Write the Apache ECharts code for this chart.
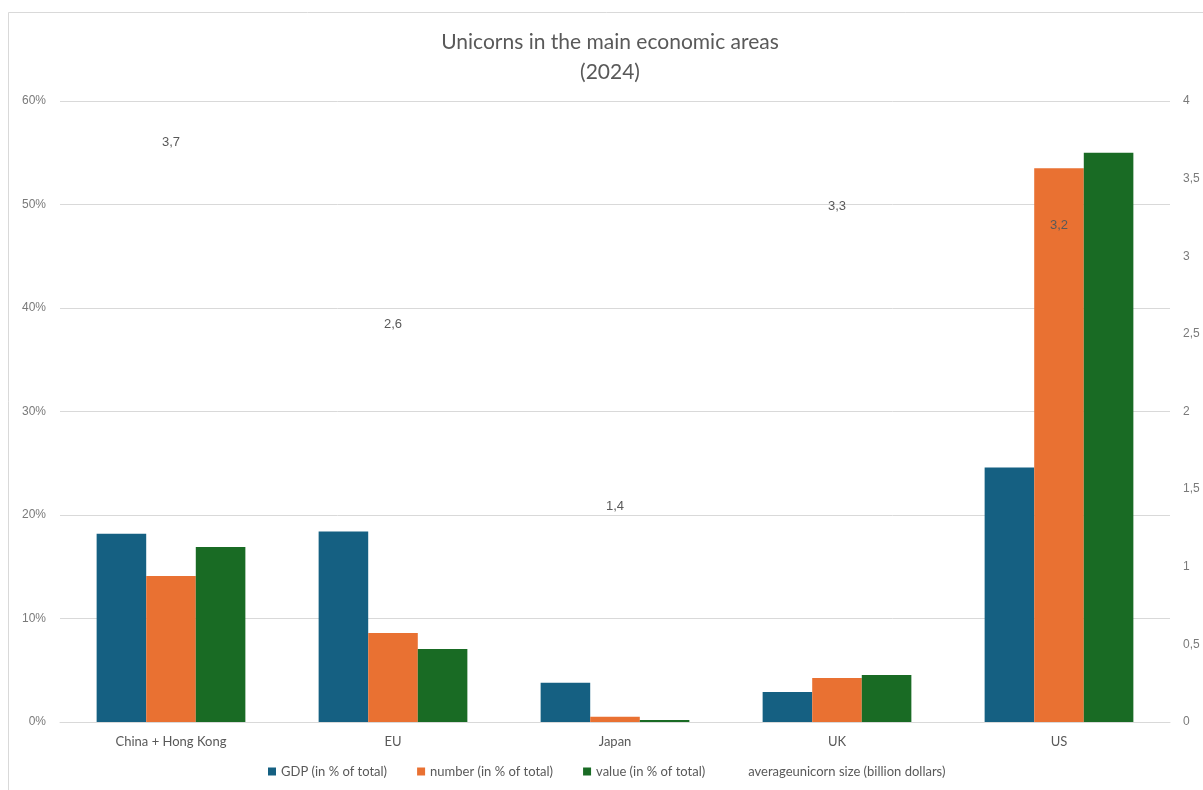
<!DOCTYPE html>
<html>
<head>
<meta charset="utf-8">
<script src="https://cdn.jsdelivr.net/npm/echarts@6/dist/echarts.min.js"></script>
<style>
html,body{margin:0;padding:0;background:#fff;}
#c{width:1203px;height:790px;}
</style>
</head>
<body>
<div id="c"></div>
<script>
const categories = ['China + Hong Kong', 'EU', 'Japan', 'UK', 'US'];
const gdpShare = [18.2, 18.4, 3.8, 2.9, 24.6];
const numberShare = [14.1, 8.6, 0.5, 4.25, 53.5];
const valueShare = [16.9, 7.05, 0.2, 4.55, 55.0];
const avgSize = [3.73, 2.56, 1.39, 3.32, 3.2];
const seriesNames = ['GDP (in % of total)', 'number (in % of total)', 'value (in % of total)', 'averageunicorn size (billion dollars)'];

const txt = '#595959';
const tick = '#7a7a7a';
const font = 'Liberation Sans';
const chart = echarts.init(document.getElementById('c'));
chart.setOption({
  backgroundColor: '#fff',
  animation: false,
  graphic: [{
    type: 'rect', shape: {x: 8.5, y: 12.5, width: 1200, height: 780},
    style: {fill: 'none', stroke: '#d9d9d9', lineWidth: 1}, silent: true, z: -1
  }],
  title: {
    text: 'Unicorns in the main economic areas\n(2024)',
    left: 605, top: 22, textAlign: 'center',
    textStyle: {color: txt, fontSize: 21, fontWeight: 'normal', fontFamily: 'Lato', lineHeight: 30}
  },
  legend: {
    bottom: 7, left: 263,
    itemWidth: 8, itemHeight: 8, itemGap: 30,
    textStyle: {color: txt, fontSize: 13, fontFamily: 'Lato'},
    data: [
      {name: seriesNames[0], icon: 'rect'},
      {name: seriesNames[1], icon: 'rect'},
      {name: seriesNames[2], icon: 'rect'},
      {name: seriesNames[3], icon: 'rect', itemStyle: {color: 'rgba(0,0,0,0)', opacity: 0}}
    ]
  },
  grid: {left: 60, right: 33, top: 101, bottom: 68},
  xAxis: {
    type: 'category', data: categories,
    axisLine: {lineStyle: {color: '#d9d9d9'}},
    axisTick: {show: false},
    axisLabel: {color: txt, fontSize: 13, fontFamily: 'Lato', margin: 13}
  },
  yAxis: [{
    type: 'value', min: 0, max: 60, interval: 10,
    axisLabel: {color: tick, fontSize: 12, fontFamily: font, margin: 14, formatter: v => v + '%'},
    splitLine: {lineStyle: {color: '#d9d9d9'}},
    axisLine: {show: false}, axisTick: {show: false}
  }, {
    type: 'value', min: 0, max: 4, interval: 0.5, position: 'right',
    axisLabel: {color: tick, fontSize: 12, fontFamily: font, margin: 13, formatter: v => String(v).replace('.', ',')},
    splitLine: {show: false},
    axisLine: {show: false}, axisTick: {show: false}
  }],
  series: [
    {name: seriesNames[0], type: 'bar', data: gdpShare, itemStyle: {color: '#156082'}, barGap: '0%', barCategoryGap: '33%'},
    {name: seriesNames[1], type: 'bar', data: numberShare, itemStyle: {color: '#E97132'}},
    {name: seriesNames[2], type: 'bar', data: valueShare, itemStyle: {color: '#196B24'}},
    {name: seriesNames[3], type: 'line', yAxisIndex: 1, data: avgSize,
     symbol: 'circle', symbolSize: 1, itemStyle: {color: 'rgba(0,0,0,0)'},
     lineStyle: {opacity: 0}, z: 10,
     label: {show: true, position: 'inside', color: txt, fontSize: 13, fontFamily: font,
       formatter: p => (Math.round(p.value * 10) / 10).toFixed(1).replace('.', ',')}}
  ]
});
</script>
</body>
</html>
